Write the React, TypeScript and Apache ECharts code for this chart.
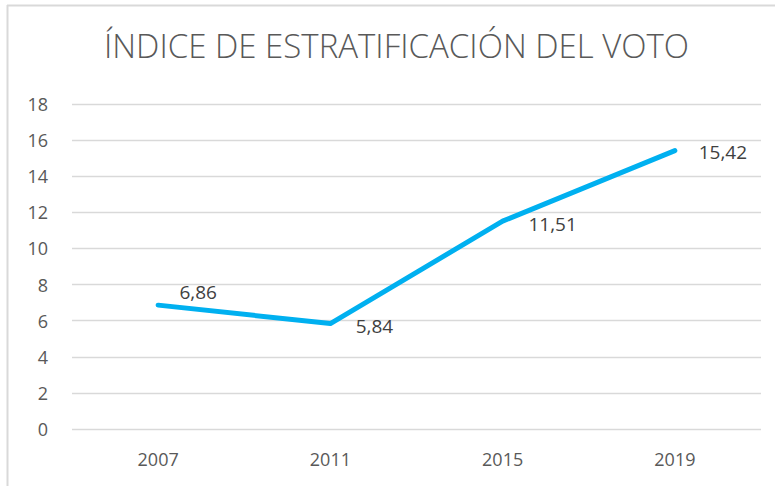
import React, { useEffect, useRef } from "react";
import * as echarts from "echarts";

const title = "ÍNDICE DE ESTRATIFICACIÓN DEL VOTO";
const years = ["2007", "2011", "2015", "2019"];
const values = [6.86, 5.84, 11.51, 15.42];
const labelOffsets: [number, number][] = [[40, -13], [44, 2], [50, 3], [48, 1]];

export default function App() {
  const ref = useRef<HTMLDivElement>(null);
  useEffect(() => {
    const chart = echarts.init(ref.current!, null, { renderer: "svg" });
    chart.setOption({
      animation: false,
      backgroundColor: "#ffffff",
      title: {
        text: title,
        left: 104,
        top: 29,
        padding: 0,
        textStyle: {
          fontFamily: "Open Sans",
          fontWeight: 300,
          fontSize: 33,
          color: "#595959",
        },
      },
      grid: { left: 72, right: 14, top: 104, bottom: 57 },
      xAxis: {
        type: "category",
        data: years,
        axisLine: { show: false },
        axisTick: { show: false },
        axisLabel: { color: "#595959", fontSize: 18, fontFamily: "Open Sans", margin: 21 },
      },
      yAxis: {
        type: "value",
        min: 0,
        max: 18,
        interval: 2,
        axisLine: { show: false },
        axisTick: { show: false },
        axisLabel: { color: "#595959", fontSize: 18, fontFamily: "Open Sans", margin: 24 },
        splitLine: { lineStyle: { color: "#d9d9d9", width: 1.3 } },
      },
      series: [
        {
          type: "line",
          data: values.map((v, i) => ({
            value: v,
            label: { offset: labelOffsets[i] },
          })),
          symbol: "circle",
          symbolSize: 2,
          showSymbol: true,
          itemStyle: { color: "#00b0f0", borderWidth: 0 },
          lineStyle: { color: "#00b0f0", width: 5, cap: "round", join: "round" },
          label: {
            show: true,
            position: "inside",
            formatter: (p: any) => String(p.value).replace(".", ","),
            color: "#404040",
            fontSize: 19,
            fontFamily: "Open Sans",
          },
        },
      ],
      graphic: [
        { type: "line", shape: { x1: 7.5, y1: 5, x2: 7.5, y2: 486 }, style: { stroke: "#d9d9d9", lineWidth: 2 } },
        { type: "line", shape: { x1: 7, y1: 5.5, x2: 775, y2: 5.5 }, style: { stroke: "#d9d9d9", lineWidth: 2 } },
      ],
    });
    return () => chart.dispose();
  }, []);
  return <div ref={ref} style={{ width: 775, height: 486, position: "fixed", left: 0, top: 0 }} />;
}
